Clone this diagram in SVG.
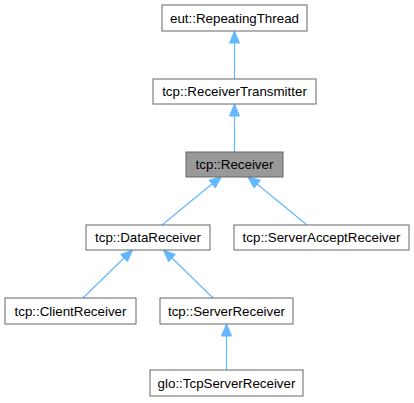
<svg xmlns="http://www.w3.org/2000/svg" width="414" height="403" viewBox="0 0 414 403">
<style>
.n rect{fill:#ffffff;stroke:#666666;stroke-width:1}
.n.cur rect{fill:#999999}
.n text{font-family:"Liberation Sans",Arial,sans-serif;font-size:13.33px;fill:#000000;text-anchor:middle}
.e path{fill:none;stroke:#63b8ff;stroke-width:1.2}
.e polygon{fill:#63b8ff;stroke:#63b8ff;stroke-width:1}
</style>
<rect width="414" height="403" fill="#ffffff"/>
<g id="edges" class="e">
<path d="M234.5,79 L234.5,43"/>
<polygon points="234.5,31 229.5,43 239.5,43"/>
<path d="M234.5,152 L234.5,116"/>
<polygon points="234.5,104 229.5,116 239.5,116"/>
<path d="M162,225 L212,184"/>
<polygon points="221.5,176.5 215.3,188 209,180.3"/>
<path d="M307,225 L257,184"/>
<polygon points="247.5,176.5 260.4,180.3 254.1,188"/>
<path d="M83,298 L124,258"/>
<polygon points="132.5,250 127.5,261.6 120.6,254.5"/>
<path d="M213,298 L172,258"/>
<polygon points="163.5,250 175.4,254.5 168.5,261.6"/>
<path d="M226.5,370 L226.5,336"/>
<polygon points="226.5,324 221.5,336 231.5,336"/>
</g>
<g id="node-RepeatingThread" class="n"><rect x="162" y="5" width="145" height="26"/><text x="234.5" y="22.5">eut::RepeatingThread</text></g>
<g id="node-ReceiverTransmitter" class="n"><rect x="153" y="79" width="163" height="25"/><text x="234.5" y="96">tcp::ReceiverTransmitter</text></g>
<g id="node-Receiver" class="n cur"><rect x="186" y="152" width="97" height="25"/><text x="234.5" y="169">tcp::Receiver</text></g>
<g id="node-DataReceiver" class="n"><rect x="86" y="225" width="124" height="25"/><text x="148" y="242">tcp::DataReceiver</text></g>
<g id="node-ServerAcceptReceiver" class="n"><rect x="234" y="225" width="175" height="25"/><text x="321.5" y="242">tcp::ServerAcceptReceiver</text></g>
<g id="node-ClientReceiver" class="n"><rect x="5" y="298" width="131" height="26"/><text x="70.5" y="315.5">tcp::ClientReceiver</text></g>
<g id="node-ServerReceiver" class="n"><rect x="160" y="298" width="133" height="26"/><text x="226.5" y="315.5">tcp::ServerReceiver</text></g>
<g id="node-TcpServerReceiver" class="n"><rect x="150" y="370" width="153" height="26"/><text x="226.5" y="387.5">glo::TcpServerReceiver</text></g>
</svg>
